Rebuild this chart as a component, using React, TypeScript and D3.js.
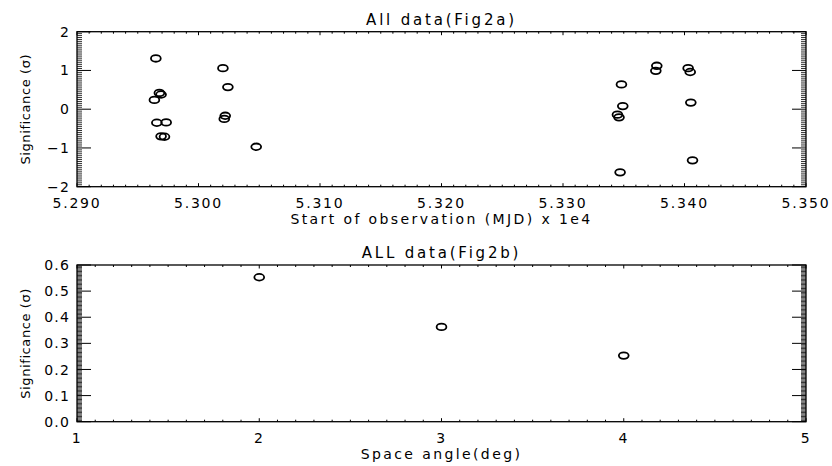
import React from "react";
import * as d3 from "d3";

// ---- Data (Fig 2a) : start of observation (MJD / 1e4) vs significance ----
const topX = [
  5.29649, 5.29678, 5.29692, 5.29637, 5.29657, 5.29734, 5.29692, 5.2972,
  5.30201, 5.30242, 5.3022, 5.30212, 5.30475,
  5.33772, 5.33764, 5.3403, 5.34047, 5.33481, 5.33492, 5.33448, 5.33461,
  5.34052, 5.34066, 5.3347,
];
const topY = [
  1.31, 0.42, 0.38, 0.24, -0.35, -0.34, -0.7, -0.71,
  1.06, 0.57, -0.17, -0.25, -0.97,
  1.12, 0.99, 1.06, 0.96, 0.64, 0.08, -0.14, -0.21,
  0.17, -1.32, -1.63,
];
const topXTicks = [5.29, 5.3, 5.31, 5.32, 5.33, 5.34, 5.35];
const topXTickLabels = ["5.290", "5.300", "5.310", "5.320", "5.330", "5.340", "5.350"];
const topYTicks = [-2, -1, 0, 1, 2];
const topYTickLabels = ["\u22122", "\u22121", "0", "1", "2"];

// ---- Data (Fig 2b) : space angle vs significance ----
const botX = [2, 3, 4];
const botY = [0.553, 0.363, 0.253];
const botXTicks = [1, 2, 3, 4, 5];
const botXTickLabels = ["1", "2", "3", "4", "5"];
const botYTicks = [0, 0.1, 0.2, 0.3, 0.4, 0.5, 0.6];
const botYTickLabels = ["0.0", "0.1", "0.2", "0.3", "0.4", "0.5", "0.6"];

const FONT = "'DejaVu Sans', sans-serif";

type PanelProps = {
  x0: number; x1: number; y0: number; y1: number;
  xDomain: [number, number]; yDomain: [number, number];
  xTicks: number[]; xLabels: string[]; xMinor: number;
  yTicks: number[]; yLabels: string[]; yMinor: number;
  xs: number[]; ys: number[];
  title: string; xTitle: string; yTitle: string;
};

function Panel(p: PanelProps) {
  const x = d3.scaleLinear().domain(p.xDomain).range([p.x0, p.x1]);
  const y = d3.scaleLinear().domain(p.yDomain).range([p.y1, p.y0]);
  const xMin: number[] = [];
  for (let i = 0; i < p.xTicks.length - 1; i++) {
    const a = p.xTicks[i], b = p.xTicks[i + 1];
    for (let k = 1; k < p.xMinor; k++) xMin.push(a + ((b - a) * k) / p.xMinor);
  }
  const yMin: number[] = [];
  for (let i = 0; i < p.yTicks.length - 1; i++) {
    const a = p.yTicks[i], b = p.yTicks[i + 1];
    for (let k = 1; k < p.yMinor; k++) yMin.push(a + ((b - a) * k) / p.yMinor);
  }
  const xMaj = 3.5, xMn = 2, yMaj = 14, yMn = 5;
  const cx = (p.x0 + p.x1) / 2;
  const cy = (p.y0 + p.y1) / 2;
  const txt = { fontFamily: FONT, fill: "#000", fontWeight: 400 } as const;
  return (
    <g>
      <rect x={p.x0} y={p.y0} width={p.x1 - p.x0} height={p.y1 - p.y0} fill="none" stroke="#000" strokeWidth={1.3} />
      {p.xTicks.map((t, i) => (
        <g key={"xt" + i}>
          <line x1={x(t)} x2={x(t)} y1={p.y1} y2={p.y1 - xMaj} stroke="#000" strokeWidth={1} />
          <line x1={x(t)} x2={x(t)} y1={p.y0} y2={p.y0 + xMaj} stroke="#000" strokeWidth={1} />
          <text x={x(t)} y={p.y1 + 21} textAnchor="middle" fontSize={14} letterSpacing={1.8} style={txt}>{p.xLabels[i]}</text>
        </g>
      ))}
      {xMin.map((t, i) => (
        <g key={"xm" + i}>
          <line x1={x(t)} x2={x(t)} y1={p.y1} y2={p.y1 - xMn} stroke="#000" strokeWidth={1} />
          <line x1={x(t)} x2={x(t)} y1={p.y0} y2={p.y0 + xMn} stroke="#000" strokeWidth={1} />
        </g>
      ))}
      {p.yTicks.map((t, i) => (
        <g key={"yt" + i}>
          <line x1={p.x0} x2={p.x0 + yMaj} y1={y(t)} y2={y(t)} stroke="#000" strokeWidth={1} />
          <line x1={p.x1} x2={p.x1 - yMaj} y1={y(t)} y2={y(t)} stroke="#000" strokeWidth={1} />
          <text x={p.x0 - 7} y={y(t)} dy="0.36em" textAnchor="end" fontSize={14} letterSpacing={1.2} style={txt}>{p.yLabels[i]}</text>
        </g>
      ))}
      {yMin.map((t, i) => (
        <g key={"ym" + i}>
          <line x1={p.x0} x2={p.x0 + yMn} y1={y(t)} y2={y(t)} stroke="#000" strokeWidth={0.8} />
          <line x1={p.x1} x2={p.x1 - yMn} y1={y(t)} y2={y(t)} stroke="#000" strokeWidth={0.8} />
        </g>
      ))}
      {p.xs.map((v, i) => (
        <ellipse key={"pt" + i} cx={x(v)} cy={y(p.ys[i])} rx={4.9} ry={3.3} fill="none" stroke="#000" strokeWidth={1.8} />
      ))}
      <text x={cx} y={p.y0 - 7} textAnchor="middle" fontSize={15} letterSpacing={2.8} style={txt}>{p.title}</text>
      <text x={cx} y={p.y1 + 37} textAnchor="middle" fontSize={14} letterSpacing={2.4} style={txt}>{p.xTitle}</text>
      <text transform={`translate(30,${cy}) rotate(-90)`} textAnchor="middle" fontSize={13} letterSpacing={0.6} style={txt}>{p.yTitle}</text>
    </g>
  );
}

export default function App() {
  return (
    <svg width={832} height={466} style={{ position: "absolute", left: 0, top: 0, background: "#fff" }}>
      <rect width={832} height={466} fill="#fff" />
      <Panel
        x0={77} x1={806} y0={31.7} y1={186.7}
        xDomain={[5.29, 5.35]} yDomain={[-2, 2]}
        xTicks={topXTicks} xLabels={topXTickLabels} xMinor={10}
        yTicks={topYTicks} yLabels={topYTickLabels} yMinor={20}
        xs={topX} ys={topY}
        title="All data(Fig2a)" xTitle="Start of observation (MJD) x 1e4" yTitle="Significance (σ)"
      />
      <Panel
        x0={77} x1={806} y0={265} y1={421.7}
        xDomain={[1, 5]} yDomain={[0, 0.6]}
        xTicks={botXTicks} xLabels={botXTickLabels} xMinor={10}
        yTicks={botYTicks} yLabels={botYTickLabels} yMinor={20}
        xs={botX} ys={botY}
        title="ALL data(Fig2b)" xTitle="Space angle(deg)" yTitle="Significance (σ)"
      />
    </svg>
  );
}
